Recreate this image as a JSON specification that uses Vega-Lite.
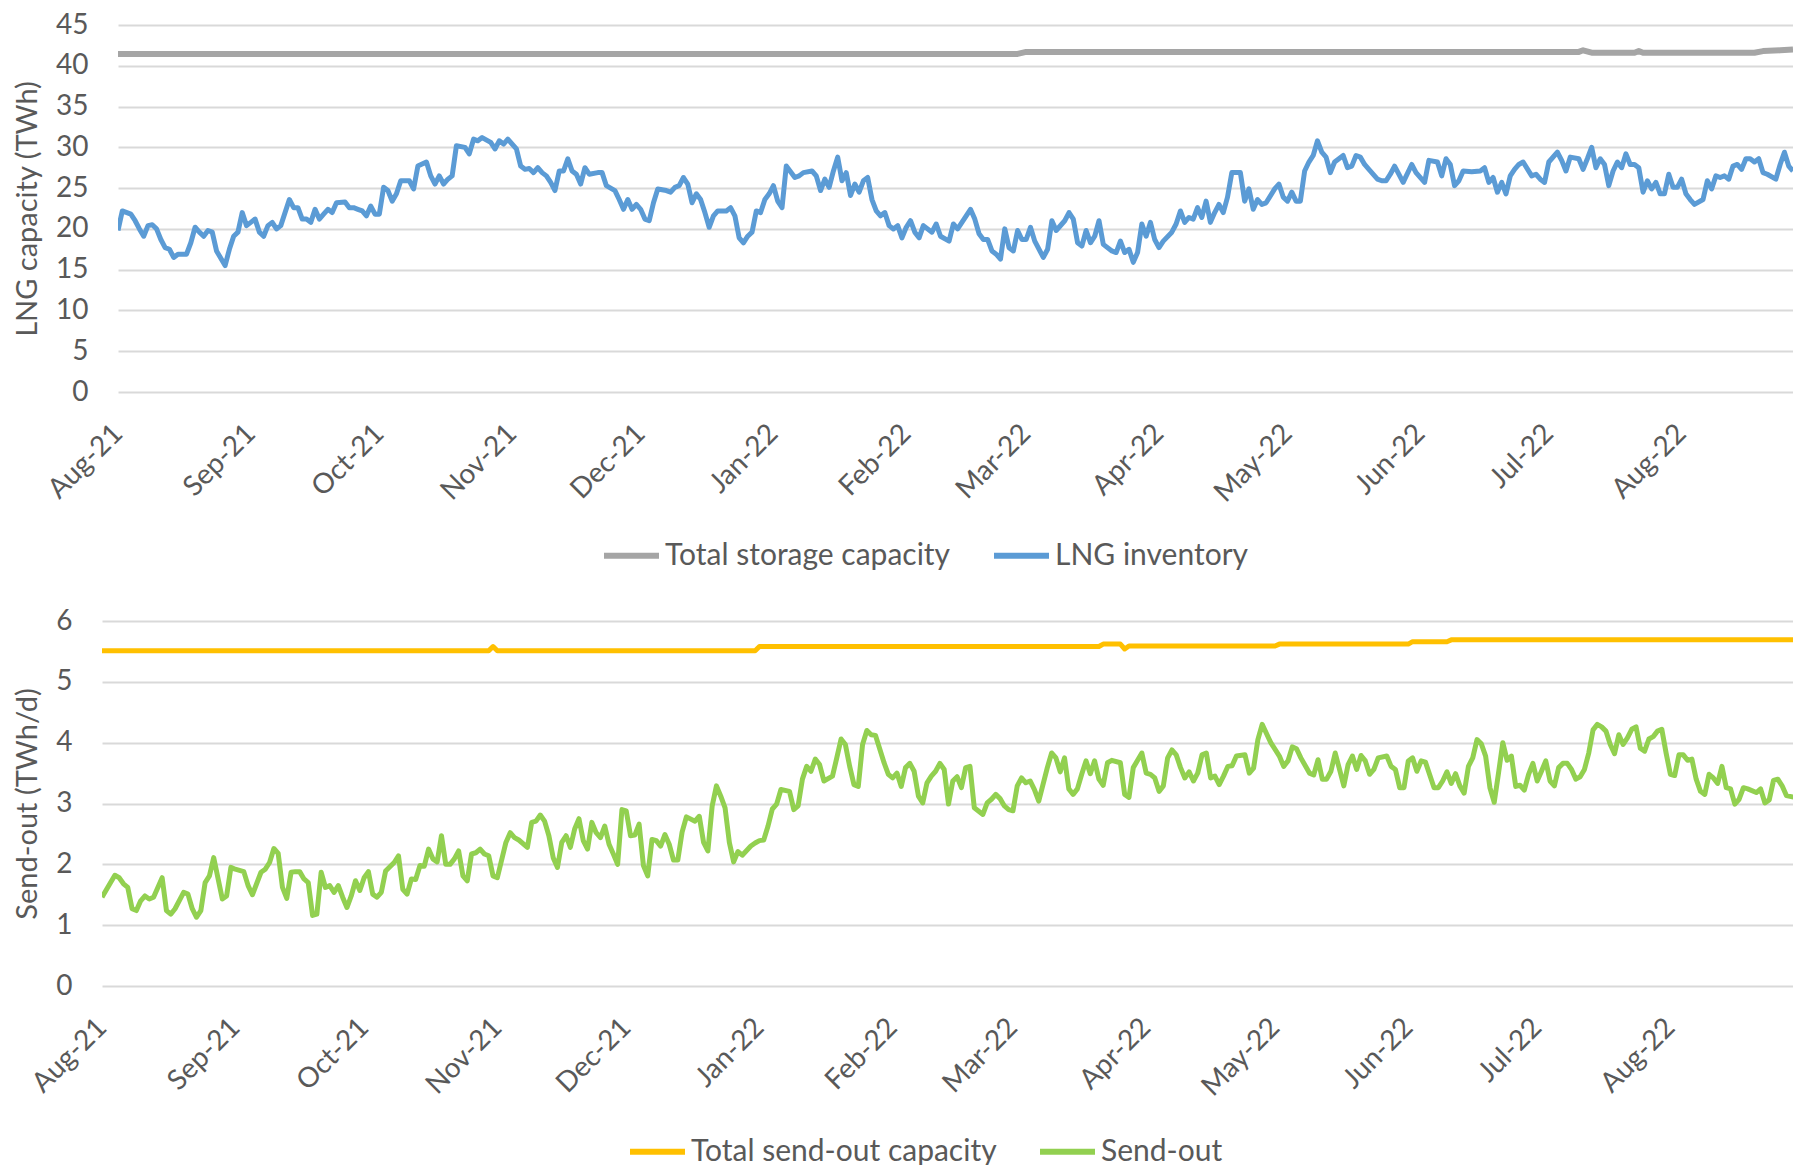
{
  "$schema": "https://vega.github.io/schema/vega-lite/v6.json",
  "background": "white",
  "padding": {"left": 12, "top": 11, "right": 0, "bottom": 0},
  "config": {
    "view": {"stroke": null},
    "font": "Lato",
    "axis": {
      "labelFont": "Lato", "titleFont": "Lato",
      "labelColor": "#595959", "titleColor": "#595959",
      "labelFontSize": 28, "titleFontSize": 29, "titleFontWeight": "normal",
      "domain": false, "ticks": false, "tickSize": 0,
      "gridColor": "#D9D9D9", "gridWidth": 2
    },
    "legend": {
      "labelFont": "Lato", "labelFontSize": 30, "labelColor": "#595959",
      "symbolType": "stroke", "symbolSize": 3025, "symbolStrokeWidth": 6,
      "labelOffset": 3, "columnPadding": 31, "labelLimit": 0, "padding": 0
    }
  },
  "datasets": {
    "storage": [
      {"date": "2021-08-01", "value": 41.45}, {"date": "2022-02-27", "value": 41.45},
      {"date": "2022-03-01", "value": 41.7}, {"date": "2022-07-08", "value": 41.7},
      {"date": "2022-07-09", "value": 41.9}, {"date": "2022-07-11", "value": 41.6},
      {"date": "2022-07-21", "value": 41.6}, {"date": "2022-07-22", "value": 41.8},
      {"date": "2022-07-23", "value": 41.6}, {"date": "2022-08-18", "value": 41.6},
      {"date": "2022-08-20", "value": 41.8}, {"date": "2022-08-24", "value": 41.9},
      {"date": "2022-08-27", "value": 42.0}
    ],
    "inventory": [
      {"date": "2021-08-01", "value": 19.8}, {"date": "2021-08-02", "value": 22.2}, {"date": "2021-08-04", "value": 21.8},
      {"date": "2021-08-05", "value": 21.0}, {"date": "2021-08-06", "value": 20.0}, {"date": "2021-08-07", "value": 19.1},
      {"date": "2021-08-08", "value": 20.4}, {"date": "2021-08-09", "value": 20.5}, {"date": "2021-08-10", "value": 20.0},
      {"date": "2021-08-11", "value": 18.7}, {"date": "2021-08-12", "value": 17.7}, {"date": "2021-08-13", "value": 17.5},
      {"date": "2021-08-14", "value": 16.5}, {"date": "2021-08-15", "value": 16.9}, {"date": "2021-08-17", "value": 16.9},
      {"date": "2021-08-18", "value": 18.3}, {"date": "2021-08-19", "value": 20.2}, {"date": "2021-08-20", "value": 19.6},
      {"date": "2021-08-21", "value": 19.1}, {"date": "2021-08-22", "value": 19.8}, {"date": "2021-08-23", "value": 19.6},
      {"date": "2021-08-24", "value": 17.3}, {"date": "2021-08-26", "value": 15.5}, {"date": "2021-08-27", "value": 17.5},
      {"date": "2021-08-28", "value": 19.1}, {"date": "2021-08-29", "value": 19.6}, {"date": "2021-08-30", "value": 22.0},
      {"date": "2021-08-31", "value": 20.4}, {"date": "2021-09-01", "value": 20.8}, {"date": "2021-09-02", "value": 21.2},
      {"date": "2021-09-03", "value": 19.6}, {"date": "2021-09-04", "value": 19.1}, {"date": "2021-09-05", "value": 20.4},
      {"date": "2021-09-06", "value": 20.8}, {"date": "2021-09-07", "value": 20.0}, {"date": "2021-09-08", "value": 20.4},
      {"date": "2021-09-10", "value": 23.6}, {"date": "2021-09-11", "value": 22.6}, {"date": "2021-09-12", "value": 22.6},
      {"date": "2021-09-13", "value": 21.2}, {"date": "2021-09-14", "value": 21.2}, {"date": "2021-09-15", "value": 20.8},
      {"date": "2021-09-16", "value": 22.4}, {"date": "2021-09-17", "value": 21.2}, {"date": "2021-09-18", "value": 21.8},
      {"date": "2021-09-19", "value": 22.4}, {"date": "2021-09-20", "value": 22.0}, {"date": "2021-09-21", "value": 23.2},
      {"date": "2021-09-23", "value": 23.3}, {"date": "2021-09-24", "value": 22.6}, {"date": "2021-09-25", "value": 22.6},
      {"date": "2021-09-26", "value": 22.4}, {"date": "2021-09-27", "value": 22.2}, {"date": "2021-09-28", "value": 21.6},
      {"date": "2021-09-29", "value": 22.8}, {"date": "2021-09-30", "value": 21.8}, {"date": "2021-10-01", "value": 21.8},
      {"date": "2021-10-02", "value": 25.1}, {"date": "2021-10-03", "value": 24.7}, {"date": "2021-10-04", "value": 23.4},
      {"date": "2021-10-05", "value": 24.3}, {"date": "2021-10-06", "value": 25.9}, {"date": "2021-10-08", "value": 25.9},
      {"date": "2021-10-09", "value": 24.9}, {"date": "2021-10-10", "value": 27.7}, {"date": "2021-10-12", "value": 28.2},
      {"date": "2021-10-13", "value": 26.5}, {"date": "2021-10-14", "value": 25.5}, {"date": "2021-10-15", "value": 26.5},
      {"date": "2021-10-16", "value": 25.5}, {"date": "2021-10-17", "value": 26.1}, {"date": "2021-10-18", "value": 26.5},
      {"date": "2021-10-19", "value": 30.2}, {"date": "2021-10-21", "value": 30.0}, {"date": "2021-10-22", "value": 29.2},
      {"date": "2021-10-23", "value": 31.0}, {"date": "2021-10-24", "value": 30.8}, {"date": "2021-10-25", "value": 31.2},
      {"date": "2021-10-27", "value": 30.6}, {"date": "2021-10-28", "value": 29.8}, {"date": "2021-10-29", "value": 30.8},
      {"date": "2021-10-30", "value": 30.4}, {"date": "2021-10-31", "value": 31.0}, {"date": "2021-11-02", "value": 29.8},
      {"date": "2021-11-03", "value": 27.7}, {"date": "2021-11-04", "value": 27.3}, {"date": "2021-11-05", "value": 27.4},
      {"date": "2021-11-06", "value": 26.9}, {"date": "2021-11-07", "value": 27.5}, {"date": "2021-11-08", "value": 26.9},
      {"date": "2021-11-09", "value": 26.5}, {"date": "2021-11-10", "value": 25.7}, {"date": "2021-11-11", "value": 24.7},
      {"date": "2021-11-12", "value": 27.1}, {"date": "2021-11-13", "value": 27.1}, {"date": "2021-11-14", "value": 28.6},
      {"date": "2021-11-15", "value": 27.1}, {"date": "2021-11-16", "value": 26.7}, {"date": "2021-11-17", "value": 25.5},
      {"date": "2021-11-18", "value": 27.5}, {"date": "2021-11-19", "value": 26.7}, {"date": "2021-11-21", "value": 26.9},
      {"date": "2021-11-22", "value": 26.9}, {"date": "2021-11-23", "value": 25.3}, {"date": "2021-11-25", "value": 24.7},
      {"date": "2021-11-26", "value": 23.6}, {"date": "2021-11-27", "value": 22.4}, {"date": "2021-11-28", "value": 23.6},
      {"date": "2021-11-29", "value": 22.4}, {"date": "2021-11-30", "value": 23.0}, {"date": "2021-12-01", "value": 22.4},
      {"date": "2021-12-02", "value": 21.2}, {"date": "2021-12-03", "value": 21.0}, {"date": "2021-12-04", "value": 23.2},
      {"date": "2021-12-05", "value": 24.9}, {"date": "2021-12-07", "value": 24.7}, {"date": "2021-12-08", "value": 24.5},
      {"date": "2021-12-09", "value": 25.1}, {"date": "2021-12-10", "value": 25.3}, {"date": "2021-12-11", "value": 26.3},
      {"date": "2021-12-12", "value": 25.5}, {"date": "2021-12-13", "value": 23.2}, {"date": "2021-12-14", "value": 24.3},
      {"date": "2021-12-15", "value": 23.6}, {"date": "2021-12-16", "value": 22.0}, {"date": "2021-12-17", "value": 20.2},
      {"date": "2021-12-18", "value": 21.6}, {"date": "2021-12-19", "value": 22.2}, {"date": "2021-12-21", "value": 22.2},
      {"date": "2021-12-22", "value": 22.6}, {"date": "2021-12-23", "value": 21.6}, {"date": "2021-12-24", "value": 18.9},
      {"date": "2021-12-25", "value": 18.3}, {"date": "2021-12-26", "value": 19.1}, {"date": "2021-12-27", "value": 19.6},
      {"date": "2021-12-28", "value": 22.2}, {"date": "2021-12-29", "value": 22.0}, {"date": "2021-12-30", "value": 23.6},
      {"date": "2021-12-31", "value": 24.3}, {"date": "2022-01-01", "value": 25.3}, {"date": "2022-01-02", "value": 23.4},
      {"date": "2022-01-03", "value": 22.6}, {"date": "2022-01-04", "value": 27.7}, {"date": "2022-01-06", "value": 26.3},
      {"date": "2022-01-07", "value": 26.5}, {"date": "2022-01-08", "value": 26.9}, {"date": "2022-01-10", "value": 27.1},
      {"date": "2022-01-11", "value": 26.5}, {"date": "2022-01-12", "value": 24.7}, {"date": "2022-01-13", "value": 26.1},
      {"date": "2022-01-14", "value": 25.1}, {"date": "2022-01-15", "value": 27.1}, {"date": "2022-01-16", "value": 28.8},
      {"date": "2022-01-17", "value": 25.9}, {"date": "2022-01-18", "value": 26.9}, {"date": "2022-01-19", "value": 24.1},
      {"date": "2022-01-20", "value": 25.5}, {"date": "2022-01-21", "value": 24.5}, {"date": "2022-01-22", "value": 25.9},
      {"date": "2022-01-23", "value": 26.3}, {"date": "2022-01-24", "value": 23.6}, {"date": "2022-01-25", "value": 22.2},
      {"date": "2022-01-26", "value": 21.6}, {"date": "2022-01-27", "value": 22.0}, {"date": "2022-01-28", "value": 20.4},
      {"date": "2022-01-29", "value": 20.0}, {"date": "2022-01-30", "value": 20.4}, {"date": "2022-01-31", "value": 18.9},
      {"date": "2022-02-01", "value": 20.2}, {"date": "2022-02-02", "value": 21.0}, {"date": "2022-02-03", "value": 19.6},
      {"date": "2022-02-04", "value": 18.9}, {"date": "2022-02-05", "value": 20.4}, {"date": "2022-02-07", "value": 19.6},
      {"date": "2022-02-08", "value": 20.6}, {"date": "2022-02-09", "value": 19.1}, {"date": "2022-02-11", "value": 18.5},
      {"date": "2022-02-12", "value": 20.6}, {"date": "2022-02-13", "value": 20.0}, {"date": "2022-02-15", "value": 21.6},
      {"date": "2022-02-16", "value": 22.4}, {"date": "2022-02-17", "value": 21.2}, {"date": "2022-02-18", "value": 19.4},
      {"date": "2022-02-19", "value": 18.7}, {"date": "2022-02-20", "value": 18.7}, {"date": "2022-02-21", "value": 17.3},
      {"date": "2022-02-22", "value": 16.9}, {"date": "2022-02-23", "value": 16.3}, {"date": "2022-02-24", "value": 20.0},
      {"date": "2022-02-25", "value": 17.7}, {"date": "2022-02-26", "value": 17.3}, {"date": "2022-02-27", "value": 19.8},
      {"date": "2022-02-28", "value": 18.7}, {"date": "2022-03-01", "value": 18.7}, {"date": "2022-03-02", "value": 20.2},
      {"date": "2022-03-03", "value": 18.5}, {"date": "2022-03-05", "value": 16.5}, {"date": "2022-03-06", "value": 17.5},
      {"date": "2022-03-07", "value": 21.0}, {"date": "2022-03-08", "value": 19.8}, {"date": "2022-03-10", "value": 21.0},
      {"date": "2022-03-11", "value": 22.0}, {"date": "2022-03-12", "value": 21.2}, {"date": "2022-03-13", "value": 18.3},
      {"date": "2022-03-14", "value": 17.9}, {"date": "2022-03-15", "value": 19.8}, {"date": "2022-03-16", "value": 18.3},
      {"date": "2022-03-17", "value": 19.1}, {"date": "2022-03-18", "value": 21.0}, {"date": "2022-03-19", "value": 18.1},
      {"date": "2022-03-21", "value": 17.3}, {"date": "2022-03-22", "value": 17.1}, {"date": "2022-03-23", "value": 18.5},
      {"date": "2022-03-24", "value": 17.1}, {"date": "2022-03-25", "value": 17.5}, {"date": "2022-03-26", "value": 15.9},
      {"date": "2022-03-27", "value": 17.1}, {"date": "2022-03-28", "value": 20.6}, {"date": "2022-03-29", "value": 19.1},
      {"date": "2022-03-30", "value": 20.8}, {"date": "2022-03-31", "value": 18.7}, {"date": "2022-04-01", "value": 17.7},
      {"date": "2022-04-02", "value": 18.5}, {"date": "2022-04-04", "value": 19.6}, {"date": "2022-04-05", "value": 20.6},
      {"date": "2022-04-06", "value": 22.2}, {"date": "2022-04-07", "value": 20.8}, {"date": "2022-04-08", "value": 21.4},
      {"date": "2022-04-09", "value": 21.2}, {"date": "2022-04-10", "value": 22.6}, {"date": "2022-04-11", "value": 21.4},
      {"date": "2022-04-12", "value": 23.4}, {"date": "2022-04-13", "value": 20.8}, {"date": "2022-04-14", "value": 22.0},
      {"date": "2022-04-15", "value": 23.0}, {"date": "2022-04-16", "value": 22.0}, {"date": "2022-04-17", "value": 23.9},
      {"date": "2022-04-18", "value": 26.9}, {"date": "2022-04-20", "value": 26.9}, {"date": "2022-04-21", "value": 23.4},
      {"date": "2022-04-22", "value": 24.9}, {"date": "2022-04-23", "value": 22.4}, {"date": "2022-04-24", "value": 23.6},
      {"date": "2022-04-25", "value": 23.0}, {"date": "2022-04-26", "value": 23.2}, {"date": "2022-04-28", "value": 24.9},
      {"date": "2022-04-29", "value": 25.5}, {"date": "2022-04-30", "value": 23.9}, {"date": "2022-05-01", "value": 23.4},
      {"date": "2022-05-02", "value": 24.5}, {"date": "2022-05-03", "value": 23.4}, {"date": "2022-05-04", "value": 23.4},
      {"date": "2022-05-05", "value": 27.1}, {"date": "2022-05-06", "value": 28.2}, {"date": "2022-05-07", "value": 29.0},
      {"date": "2022-05-08", "value": 30.8}, {"date": "2022-05-09", "value": 29.4}, {"date": "2022-05-10", "value": 28.8},
      {"date": "2022-05-11", "value": 26.9}, {"date": "2022-05-12", "value": 28.2}, {"date": "2022-05-14", "value": 29.0},
      {"date": "2022-05-15", "value": 27.5}, {"date": "2022-05-16", "value": 27.7}, {"date": "2022-05-17", "value": 29.0},
      {"date": "2022-05-18", "value": 28.8}, {"date": "2022-05-19", "value": 27.9}, {"date": "2022-05-20", "value": 27.3},
      {"date": "2022-05-22", "value": 26.1}, {"date": "2022-05-23", "value": 25.9}, {"date": "2022-05-24", "value": 25.9},
      {"date": "2022-05-25", "value": 26.7}, {"date": "2022-05-26", "value": 27.7}, {"date": "2022-05-28", "value": 25.7},
      {"date": "2022-05-30", "value": 27.9}, {"date": "2022-05-31", "value": 26.9}, {"date": "2022-06-02", "value": 25.7},
      {"date": "2022-06-03", "value": 28.4}, {"date": "2022-06-05", "value": 28.2}, {"date": "2022-06-06", "value": 26.5},
      {"date": "2022-06-07", "value": 28.6}, {"date": "2022-06-08", "value": 27.9}, {"date": "2022-06-09", "value": 25.3},
      {"date": "2022-06-10", "value": 25.9}, {"date": "2022-06-11", "value": 27.1}, {"date": "2022-06-13", "value": 27.0},
      {"date": "2022-06-15", "value": 27.1}, {"date": "2022-06-16", "value": 27.5}, {"date": "2022-06-17", "value": 25.7},
      {"date": "2022-06-18", "value": 26.3}, {"date": "2022-06-19", "value": 24.5}, {"date": "2022-06-20", "value": 25.7},
      {"date": "2022-06-21", "value": 24.3}, {"date": "2022-06-22", "value": 26.5}, {"date": "2022-06-23", "value": 27.3},
      {"date": "2022-06-24", "value": 27.9}, {"date": "2022-06-25", "value": 28.2}, {"date": "2022-06-27", "value": 26.5},
      {"date": "2022-06-28", "value": 26.7}, {"date": "2022-06-29", "value": 26.1}, {"date": "2022-06-30", "value": 25.7},
      {"date": "2022-07-01", "value": 28.2}, {"date": "2022-07-03", "value": 29.4}, {"date": "2022-07-04", "value": 28.4},
      {"date": "2022-07-05", "value": 27.1}, {"date": "2022-07-06", "value": 28.8}, {"date": "2022-07-08", "value": 28.6},
      {"date": "2022-07-09", "value": 27.3}, {"date": "2022-07-10", "value": 28.6}, {"date": "2022-07-11", "value": 30.0},
      {"date": "2022-07-12", "value": 27.5}, {"date": "2022-07-13", "value": 28.6}, {"date": "2022-07-14", "value": 27.9},
      {"date": "2022-07-15", "value": 25.3}, {"date": "2022-07-16", "value": 27.1}, {"date": "2022-07-17", "value": 28.2},
      {"date": "2022-07-18", "value": 27.5}, {"date": "2022-07-19", "value": 29.2}, {"date": "2022-07-20", "value": 27.9},
      {"date": "2022-07-21", "value": 27.9}, {"date": "2022-07-22", "value": 27.5}, {"date": "2022-07-23", "value": 24.5},
      {"date": "2022-07-24", "value": 25.9}, {"date": "2022-07-25", "value": 24.9}, {"date": "2022-07-26", "value": 25.7},
      {"date": "2022-07-27", "value": 24.3}, {"date": "2022-07-28", "value": 24.3}, {"date": "2022-07-29", "value": 26.7},
      {"date": "2022-07-30", "value": 25.1}, {"date": "2022-07-31", "value": 25.1}, {"date": "2022-08-01", "value": 26.1},
      {"date": "2022-08-02", "value": 24.3}, {"date": "2022-08-03", "value": 23.6}, {"date": "2022-08-04", "value": 23.0},
      {"date": "2022-08-06", "value": 23.6}, {"date": "2022-08-07", "value": 25.9}, {"date": "2022-08-08", "value": 24.9},
      {"date": "2022-08-09", "value": 26.5}, {"date": "2022-08-10", "value": 26.3}, {"date": "2022-08-11", "value": 26.5},
      {"date": "2022-08-12", "value": 26.1}, {"date": "2022-08-13", "value": 27.7}, {"date": "2022-08-14", "value": 27.9},
      {"date": "2022-08-15", "value": 27.3}, {"date": "2022-08-16", "value": 28.6}, {"date": "2022-08-17", "value": 28.6},
      {"date": "2022-08-18", "value": 28.2}, {"date": "2022-08-19", "value": 28.6}, {"date": "2022-08-20", "value": 26.9},
      {"date": "2022-08-21", "value": 26.7}, {"date": "2022-08-23", "value": 26.1}, {"date": "2022-08-24", "value": 27.9},
      {"date": "2022-08-25", "value": 29.4}, {"date": "2022-08-26", "value": 27.7}, {"date": "2022-08-27", "value": 27.1}
    ],
    "sendcap": [
      {"date": "2021-08-01", "value": 5.51}, {"date": "2021-10-30", "value": 5.51}, {"date": "2021-10-31", "value": 5.58},
      {"date": "2021-11-01", "value": 5.51}, {"date": "2021-12-31", "value": 5.51}, {"date": "2022-01-01", "value": 5.58},
      {"date": "2022-03-21", "value": 5.58}, {"date": "2022-03-22", "value": 5.62}, {"date": "2022-03-26", "value": 5.62},
      {"date": "2022-03-27", "value": 5.54}, {"date": "2022-03-28", "value": 5.59}, {"date": "2022-05-01", "value": 5.59},
      {"date": "2022-05-02", "value": 5.62}, {"date": "2022-06-01", "value": 5.62}, {"date": "2022-06-02", "value": 5.66},
      {"date": "2022-06-10", "value": 5.66}, {"date": "2022-06-11", "value": 5.69}, {"date": "2022-08-30", "value": 5.69}
    ],
    "sendout": [
      {"date": "2021-08-01", "value": 1.46}, {"date": "2021-08-03", "value": 1.70}, {"date": "2021-08-04", "value": 1.82},
      {"date": "2021-08-05", "value": 1.78}, {"date": "2021-08-06", "value": 1.68}, {"date": "2021-08-07", "value": 1.62},
      {"date": "2021-08-08", "value": 1.27}, {"date": "2021-08-09", "value": 1.24}, {"date": "2021-08-10", "value": 1.40},
      {"date": "2021-08-11", "value": 1.48}, {"date": "2021-08-12", "value": 1.43}, {"date": "2021-08-13", "value": 1.46},
      {"date": "2021-08-14", "value": 1.62}, {"date": "2021-08-15", "value": 1.78}, {"date": "2021-08-16", "value": 1.24},
      {"date": "2021-08-17", "value": 1.18}, {"date": "2021-08-18", "value": 1.27}, {"date": "2021-08-20", "value": 1.54},
      {"date": "2021-08-21", "value": 1.51}, {"date": "2021-08-22", "value": 1.27}, {"date": "2021-08-23", "value": 1.13},
      {"date": "2021-08-24", "value": 1.24}, {"date": "2021-08-25", "value": 1.70}, {"date": "2021-08-26", "value": 1.81},
      {"date": "2021-08-27", "value": 2.11}, {"date": "2021-08-29", "value": 1.43}, {"date": "2021-08-30", "value": 1.48},
      {"date": "2021-08-31", "value": 1.95}, {"date": "2021-09-01", "value": 1.92}, {"date": "2021-09-03", "value": 1.88},
      {"date": "2021-09-04", "value": 1.65}, {"date": "2021-09-05", "value": 1.50}, {"date": "2021-09-07", "value": 1.87},
      {"date": "2021-09-08", "value": 1.92}, {"date": "2021-09-09", "value": 2.03}, {"date": "2021-09-10", "value": 2.26},
      {"date": "2021-09-11", "value": 2.18}, {"date": "2021-09-12", "value": 1.62}, {"date": "2021-09-13", "value": 1.44},
      {"date": "2021-09-14", "value": 1.87}, {"date": "2021-09-15", "value": 1.88}, {"date": "2021-09-16", "value": 1.88},
      {"date": "2021-09-17", "value": 1.76}, {"date": "2021-09-18", "value": 1.70}, {"date": "2021-09-19", "value": 1.16},
      {"date": "2021-09-20", "value": 1.18}, {"date": "2021-09-21", "value": 1.87}, {"date": "2021-09-22", "value": 1.62},
      {"date": "2021-09-23", "value": 1.65}, {"date": "2021-09-24", "value": 1.54}, {"date": "2021-09-25", "value": 1.65},
      {"date": "2021-09-26", "value": 1.46}, {"date": "2021-09-27", "value": 1.29}, {"date": "2021-09-28", "value": 1.48},
      {"date": "2021-09-29", "value": 1.73}, {"date": "2021-09-30", "value": 1.57}, {"date": "2021-10-01", "value": 1.78},
      {"date": "2021-10-02", "value": 1.88}, {"date": "2021-10-03", "value": 1.51}, {"date": "2021-10-04", "value": 1.46},
      {"date": "2021-10-05", "value": 1.54}, {"date": "2021-10-06", "value": 1.89}, {"date": "2021-10-08", "value": 2.03},
      {"date": "2021-10-09", "value": 2.14}, {"date": "2021-10-10", "value": 1.59}, {"date": "2021-10-11", "value": 1.51},
      {"date": "2021-10-12", "value": 1.76}, {"date": "2021-10-13", "value": 1.75}, {"date": "2021-10-14", "value": 1.98},
      {"date": "2021-10-15", "value": 1.97}, {"date": "2021-10-16", "value": 2.25}, {"date": "2021-10-17", "value": 2.09},
      {"date": "2021-10-18", "value": 2.04}, {"date": "2021-10-19", "value": 2.47}, {"date": "2021-10-20", "value": 2.00},
      {"date": "2021-10-21", "value": 2.00}, {"date": "2021-10-22", "value": 2.09}, {"date": "2021-10-23", "value": 2.22},
      {"date": "2021-10-24", "value": 1.81}, {"date": "2021-10-25", "value": 1.73}, {"date": "2021-10-26", "value": 2.17},
      {"date": "2021-10-27", "value": 2.19}, {"date": "2021-10-28", "value": 2.25}, {"date": "2021-10-29", "value": 2.17},
      {"date": "2021-10-30", "value": 2.14}, {"date": "2021-10-31", "value": 1.81}, {"date": "2021-11-01", "value": 1.78},
      {"date": "2021-11-03", "value": 2.36}, {"date": "2021-11-04", "value": 2.52}, {"date": "2021-11-05", "value": 2.44},
      {"date": "2021-11-06", "value": 2.40}, {"date": "2021-11-08", "value": 2.28}, {"date": "2021-11-09", "value": 2.69},
      {"date": "2021-11-10", "value": 2.71}, {"date": "2021-11-11", "value": 2.81}, {"date": "2021-11-12", "value": 2.71},
      {"date": "2021-11-13", "value": 2.47}, {"date": "2021-11-14", "value": 2.11}, {"date": "2021-11-15", "value": 1.95},
      {"date": "2021-11-16", "value": 2.36}, {"date": "2021-11-17", "value": 2.47}, {"date": "2021-11-18", "value": 2.28},
      {"date": "2021-11-19", "value": 2.58}, {"date": "2021-11-20", "value": 2.75}, {"date": "2021-11-21", "value": 2.39},
      {"date": "2021-11-22", "value": 2.25}, {"date": "2021-11-23", "value": 2.69}, {"date": "2021-11-24", "value": 2.52},
      {"date": "2021-11-25", "value": 2.44}, {"date": "2021-11-26", "value": 2.63}, {"date": "2021-11-27", "value": 2.33},
      {"date": "2021-11-28", "value": 2.17}, {"date": "2021-11-29", "value": 2.00}, {"date": "2021-11-30", "value": 2.90},
      {"date": "2021-12-01", "value": 2.88}, {"date": "2021-12-02", "value": 2.47}, {"date": "2021-12-03", "value": 2.48},
      {"date": "2021-12-04", "value": 2.66}, {"date": "2021-12-05", "value": 1.98}, {"date": "2021-12-06", "value": 1.81},
      {"date": "2021-12-07", "value": 2.41}, {"date": "2021-12-08", "value": 2.39}, {"date": "2021-12-09", "value": 2.30},
      {"date": "2021-12-10", "value": 2.49}, {"date": "2021-12-11", "value": 2.33}, {"date": "2021-12-12", "value": 2.07},
      {"date": "2021-12-13", "value": 2.07}, {"date": "2021-12-14", "value": 2.53}, {"date": "2021-12-15", "value": 2.78},
      {"date": "2021-12-17", "value": 2.71}, {"date": "2021-12-18", "value": 2.79}, {"date": "2021-12-19", "value": 2.36},
      {"date": "2021-12-20", "value": 2.22}, {"date": "2021-12-21", "value": 2.96}, {"date": "2021-12-22", "value": 3.29},
      {"date": "2021-12-23", "value": 3.12}, {"date": "2021-12-24", "value": 2.93}, {"date": "2021-12-25", "value": 2.36},
      {"date": "2021-12-26", "value": 2.04}, {"date": "2021-12-27", "value": 2.21}, {"date": "2021-12-28", "value": 2.15},
      {"date": "2021-12-30", "value": 2.30}, {"date": "2021-12-31", "value": 2.35}, {"date": "2022-01-01", "value": 2.39},
      {"date": "2022-01-02", "value": 2.40}, {"date": "2022-01-03", "value": 2.63}, {"date": "2022-01-04", "value": 2.91},
      {"date": "2022-01-05", "value": 2.99}, {"date": "2022-01-06", "value": 3.23}, {"date": "2022-01-08", "value": 3.20},
      {"date": "2022-01-09", "value": 2.90}, {"date": "2022-01-10", "value": 2.96}, {"date": "2022-01-11", "value": 3.40},
      {"date": "2022-01-12", "value": 3.61}, {"date": "2022-01-13", "value": 3.53}, {"date": "2022-01-14", "value": 3.73},
      {"date": "2022-01-15", "value": 3.64}, {"date": "2022-01-16", "value": 3.37}, {"date": "2022-01-18", "value": 3.45},
      {"date": "2022-01-19", "value": 3.75}, {"date": "2022-01-20", "value": 4.06}, {"date": "2022-01-21", "value": 3.97},
      {"date": "2022-01-22", "value": 3.61}, {"date": "2022-01-23", "value": 3.31}, {"date": "2022-01-24", "value": 3.28},
      {"date": "2022-01-25", "value": 3.97}, {"date": "2022-01-26", "value": 4.20}, {"date": "2022-01-27", "value": 4.13},
      {"date": "2022-01-28", "value": 4.12}, {"date": "2022-01-30", "value": 3.67}, {"date": "2022-01-31", "value": 3.48},
      {"date": "2022-02-01", "value": 3.42}, {"date": "2022-02-02", "value": 3.50}, {"date": "2022-02-03", "value": 3.28},
      {"date": "2022-02-04", "value": 3.59}, {"date": "2022-02-05", "value": 3.66}, {"date": "2022-02-06", "value": 3.53},
      {"date": "2022-02-07", "value": 3.12}, {"date": "2022-02-08", "value": 3.01}, {"date": "2022-02-09", "value": 3.34},
      {"date": "2022-02-10", "value": 3.45}, {"date": "2022-02-11", "value": 3.53}, {"date": "2022-02-12", "value": 3.66},
      {"date": "2022-02-13", "value": 3.56}, {"date": "2022-02-14", "value": 2.99}, {"date": "2022-02-15", "value": 3.37},
      {"date": "2022-02-16", "value": 3.44}, {"date": "2022-02-17", "value": 3.26}, {"date": "2022-02-18", "value": 3.59},
      {"date": "2022-02-19", "value": 3.61}, {"date": "2022-02-20", "value": 2.93}, {"date": "2022-02-22", "value": 2.82},
      {"date": "2022-02-23", "value": 3.01}, {"date": "2022-02-24", "value": 3.07}, {"date": "2022-02-25", "value": 3.15},
      {"date": "2022-02-26", "value": 3.08}, {"date": "2022-02-27", "value": 2.96}, {"date": "2022-02-28", "value": 2.90},
      {"date": "2022-03-01", "value": 2.88}, {"date": "2022-03-02", "value": 3.29}, {"date": "2022-03-03", "value": 3.42},
      {"date": "2022-03-04", "value": 3.34}, {"date": "2022-03-05", "value": 3.37}, {"date": "2022-03-06", "value": 3.23},
      {"date": "2022-03-07", "value": 3.04}, {"date": "2022-03-09", "value": 3.59}, {"date": "2022-03-10", "value": 3.83},
      {"date": "2022-03-11", "value": 3.75}, {"date": "2022-03-12", "value": 3.52}, {"date": "2022-03-13", "value": 3.75},
      {"date": "2022-03-14", "value": 3.24}, {"date": "2022-03-15", "value": 3.15}, {"date": "2022-03-16", "value": 3.24},
      {"date": "2022-03-17", "value": 3.48}, {"date": "2022-03-18", "value": 3.70}, {"date": "2022-03-19", "value": 3.49},
      {"date": "2022-03-20", "value": 3.70}, {"date": "2022-03-21", "value": 3.40}, {"date": "2022-03-22", "value": 3.30},
      {"date": "2022-03-23", "value": 3.67}, {"date": "2022-03-24", "value": 3.71}, {"date": "2022-03-26", "value": 3.67},
      {"date": "2022-03-27", "value": 3.15}, {"date": "2022-03-28", "value": 3.10}, {"date": "2022-03-29", "value": 3.59},
      {"date": "2022-03-31", "value": 3.83}, {"date": "2022-04-01", "value": 3.50}, {"date": "2022-04-02", "value": 3.48},
      {"date": "2022-04-03", "value": 3.42}, {"date": "2022-04-04", "value": 3.20}, {"date": "2022-04-05", "value": 3.29},
      {"date": "2022-04-06", "value": 3.75}, {"date": "2022-04-07", "value": 3.88}, {"date": "2022-04-08", "value": 3.80},
      {"date": "2022-04-09", "value": 3.59}, {"date": "2022-04-10", "value": 3.42}, {"date": "2022-04-11", "value": 3.52},
      {"date": "2022-04-12", "value": 3.37}, {"date": "2022-04-13", "value": 3.50}, {"date": "2022-04-14", "value": 3.80},
      {"date": "2022-04-15", "value": 3.83}, {"date": "2022-04-16", "value": 3.42}, {"date": "2022-04-17", "value": 3.45},
      {"date": "2022-04-18", "value": 3.31}, {"date": "2022-04-19", "value": 3.45}, {"date": "2022-04-20", "value": 3.61},
      {"date": "2022-04-21", "value": 3.62}, {"date": "2022-04-22", "value": 3.78}, {"date": "2022-04-24", "value": 3.80},
      {"date": "2022-04-25", "value": 3.50}, {"date": "2022-04-26", "value": 3.58}, {"date": "2022-04-27", "value": 4.05},
      {"date": "2022-04-28", "value": 4.30}, {"date": "2022-04-29", "value": 4.15}, {"date": "2022-04-30", "value": 4.00},
      {"date": "2022-05-02", "value": 3.78}, {"date": "2022-05-03", "value": 3.61}, {"date": "2022-05-04", "value": 3.70},
      {"date": "2022-05-05", "value": 3.93}, {"date": "2022-05-06", "value": 3.90}, {"date": "2022-05-07", "value": 3.75},
      {"date": "2022-05-09", "value": 3.50}, {"date": "2022-05-10", "value": 3.47}, {"date": "2022-05-11", "value": 3.72},
      {"date": "2022-05-12", "value": 3.40}, {"date": "2022-05-13", "value": 3.40}, {"date": "2022-05-14", "value": 3.53},
      {"date": "2022-05-15", "value": 3.83}, {"date": "2022-05-16", "value": 3.56}, {"date": "2022-05-17", "value": 3.29},
      {"date": "2022-05-18", "value": 3.64}, {"date": "2022-05-19", "value": 3.78}, {"date": "2022-05-20", "value": 3.56},
      {"date": "2022-05-21", "value": 3.79}, {"date": "2022-05-22", "value": 3.70}, {"date": "2022-05-23", "value": 3.48},
      {"date": "2022-05-24", "value": 3.56}, {"date": "2022-05-25", "value": 3.75}, {"date": "2022-05-27", "value": 3.78},
      {"date": "2022-05-28", "value": 3.61}, {"date": "2022-05-29", "value": 3.56}, {"date": "2022-05-30", "value": 3.26},
      {"date": "2022-05-31", "value": 3.26}, {"date": "2022-06-01", "value": 3.70}, {"date": "2022-06-02", "value": 3.75},
      {"date": "2022-06-03", "value": 3.53}, {"date": "2022-06-04", "value": 3.70}, {"date": "2022-06-05", "value": 3.68},
      {"date": "2022-06-07", "value": 3.26}, {"date": "2022-06-08", "value": 3.26}, {"date": "2022-06-09", "value": 3.37},
      {"date": "2022-06-10", "value": 3.52}, {"date": "2022-06-11", "value": 3.33}, {"date": "2022-06-12", "value": 3.49},
      {"date": "2022-06-13", "value": 3.29}, {"date": "2022-06-14", "value": 3.17}, {"date": "2022-06-15", "value": 3.61},
      {"date": "2022-06-16", "value": 3.75}, {"date": "2022-06-17", "value": 4.05}, {"date": "2022-06-18", "value": 3.98},
      {"date": "2022-06-19", "value": 3.78}, {"date": "2022-06-20", "value": 3.26}, {"date": "2022-06-21", "value": 3.02},
      {"date": "2022-06-22", "value": 3.50}, {"date": "2022-06-23", "value": 4.00}, {"date": "2022-06-24", "value": 3.71},
      {"date": "2022-06-25", "value": 3.78}, {"date": "2022-06-26", "value": 3.28}, {"date": "2022-06-27", "value": 3.30},
      {"date": "2022-06-28", "value": 3.22}, {"date": "2022-06-29", "value": 3.48}, {"date": "2022-06-30", "value": 3.66},
      {"date": "2022-07-01", "value": 3.37}, {"date": "2022-07-02", "value": 3.53}, {"date": "2022-07-03", "value": 3.70},
      {"date": "2022-07-04", "value": 3.37}, {"date": "2022-07-05", "value": 3.29}, {"date": "2022-07-06", "value": 3.59},
      {"date": "2022-07-07", "value": 3.66}, {"date": "2022-07-08", "value": 3.66}, {"date": "2022-07-09", "value": 3.56},
      {"date": "2022-07-10", "value": 3.40}, {"date": "2022-07-11", "value": 3.44}, {"date": "2022-07-12", "value": 3.56},
      {"date": "2022-07-13", "value": 3.83}, {"date": "2022-07-14", "value": 4.21}, {"date": "2022-07-15", "value": 4.30},
      {"date": "2022-07-16", "value": 4.26}, {"date": "2022-07-17", "value": 4.19}, {"date": "2022-07-18", "value": 3.97},
      {"date": "2022-07-19", "value": 3.82}, {"date": "2022-07-20", "value": 4.13}, {"date": "2022-07-21", "value": 3.97},
      {"date": "2022-07-22", "value": 4.08}, {"date": "2022-07-23", "value": 4.22}, {"date": "2022-07-24", "value": 4.26},
      {"date": "2022-07-25", "value": 3.91}, {"date": "2022-07-26", "value": 3.86}, {"date": "2022-07-27", "value": 4.06},
      {"date": "2022-07-28", "value": 4.10}, {"date": "2022-07-29", "value": 4.19}, {"date": "2022-07-30", "value": 4.22},
      {"date": "2022-07-31", "value": 3.83}, {"date": "2022-08-01", "value": 3.48}, {"date": "2022-08-02", "value": 3.46},
      {"date": "2022-08-03", "value": 3.80}, {"date": "2022-08-04", "value": 3.80}, {"date": "2022-08-05", "value": 3.71},
      {"date": "2022-08-06", "value": 3.73}, {"date": "2022-08-07", "value": 3.40}, {"date": "2022-08-08", "value": 3.20},
      {"date": "2022-08-09", "value": 3.15}, {"date": "2022-08-10", "value": 3.48}, {"date": "2022-08-11", "value": 3.42},
      {"date": "2022-08-12", "value": 3.33}, {"date": "2022-08-13", "value": 3.61}, {"date": "2022-08-14", "value": 3.26},
      {"date": "2022-08-15", "value": 3.24}, {"date": "2022-08-16", "value": 2.99}, {"date": "2022-08-17", "value": 3.07},
      {"date": "2022-08-18", "value": 3.26}, {"date": "2022-08-19", "value": 3.24}, {"date": "2022-08-21", "value": 3.18},
      {"date": "2022-08-22", "value": 3.24}, {"date": "2022-08-23", "value": 3.01}, {"date": "2022-08-24", "value": 3.06},
      {"date": "2022-08-25", "value": 3.38}, {"date": "2022-08-26", "value": 3.40}, {"date": "2022-08-27", "value": 3.29},
      {"date": "2022-08-28", "value": 3.13}, {"date": "2022-08-30", "value": 3.10}
    ]
  },
  "vconcat": [
    {
      "spacing": 0,
      "hconcat": [
        {"width": 1, "height": 1, "data": {"values": []}, "mark": "point"},
        {
          "width": 1675,
          "height": 367,
          "encoding": {
            "x": {
              "field": "date", "type": "temporal",
              "scale": {"type": "utc", "domain": [{"year": 2021, "month": 8, "date": 1, "utc": true}, {"year": 2022, "month": 8, "date": 27, "utc": true}]},
              "axis": {
                "title": null, "grid": false, "format": "%b-%y", "labelAngle": -45, "labelAlign": "right", "labelBaseline": "middle",
                "labelPadding": 37, "labelOverlap": false, "labelFlush": false,
                "values": [
                  {"year": 2021, "month": 8, "date": 1, "utc": true}, {"year": 2021, "month": 9, "date": 1, "utc": true},
                  {"year": 2021, "month": 10, "date": 1, "utc": true}, {"year": 2021, "month": 11, "date": 1, "utc": true},
                  {"year": 2021, "month": 12, "date": 1, "utc": true}, {"year": 2022, "month": 1, "date": 1, "utc": true},
                  {"year": 2022, "month": 2, "date": 1, "utc": true}, {"year": 2022, "month": 3, "date": 1, "utc": true},
                  {"year": 2022, "month": 4, "date": 1, "utc": true}, {"year": 2022, "month": 5, "date": 1, "utc": true},
                  {"year": 2022, "month": 6, "date": 1, "utc": true}, {"year": 2022, "month": 7, "date": 1, "utc": true},
                  {"year": 2022, "month": 8, "date": 1, "utc": true}
                ]
              }
            },
            "y": {
              "field": "value", "type": "quantitative",
              "scale": {"domain": [0, 45], "nice": false, "zero": true},
              "axis": {"title": "LNG capacity (TWh)", "values": [0, 5, 10, 15, 20, 25, 30, 35, 40, 45], "labelPadding": 30, "titlePadding": 13}
            }
          },
          "layer": [
            {
              "data": {"name": "storage"},
              "mark": {"type": "line", "strokeWidth": 6, "clip": true, "strokeJoin": "round"},
              "encoding": {
                "color": {
                  "datum": "Total storage capacity", "type": "nominal",
                  "scale": {"domain": ["Total storage capacity", "LNG inventory"], "range": ["#A5A5A5", "#5B9BD5"]},
                  "legend": {"title": null, "orient": "none", "direction": "horizontal", "legendX": 589, "legendY": 500}
                }
              }
            },
            {
              "data": {"name": "inventory"},
              "mark": {"type": "line", "strokeWidth": 5, "clip": true, "strokeJoin": "round"},
              "encoding": {"color": {"datum": "LNG inventory", "type": "nominal"}}
            }
          ]
        }
      ]
    },
    {
      "spacing": 0,
      "hconcat": [
        {"width": 1, "height": 1, "data": {"values": []}, "mark": "point"},
        {
          "width": 1693,
          "height": 365,
          "encoding": {
            "x": {
              "field": "date", "type": "temporal",
              "scale": {"type": "utc", "domain": [{"year": 2021, "month": 8, "date": 1, "utc": true}, {"year": 2022, "month": 8, "date": 30, "utc": true}]},
              "axis": {
                "title": null, "grid": false, "format": "%b-%y", "labelAngle": -45, "labelAlign": "right", "labelBaseline": "middle",
                "labelPadding": 37, "labelOverlap": false, "labelFlush": false,
                "values": [
                  {"year": 2021, "month": 8, "date": 1, "utc": true}, {"year": 2021, "month": 9, "date": 1, "utc": true},
                  {"year": 2021, "month": 10, "date": 1, "utc": true}, {"year": 2021, "month": 11, "date": 1, "utc": true},
                  {"year": 2021, "month": 12, "date": 1, "utc": true}, {"year": 2022, "month": 1, "date": 1, "utc": true},
                  {"year": 2022, "month": 2, "date": 1, "utc": true}, {"year": 2022, "month": 3, "date": 1, "utc": true},
                  {"year": 2022, "month": 4, "date": 1, "utc": true}, {"year": 2022, "month": 5, "date": 1, "utc": true},
                  {"year": 2022, "month": 6, "date": 1, "utc": true}, {"year": 2022, "month": 7, "date": 1, "utc": true},
                  {"year": 2022, "month": 8, "date": 1, "utc": true}
                ]
              }
            },
            "y": {
              "field": "value", "type": "quantitative",
              "scale": {"domain": [0, 6], "nice": false, "zero": true},
              "axis": {"title": "Send-out (TWh/d)", "values": [0, 1, 2, 3, 4, 5, 6], "labelPadding": 30, "titlePadding": 13}
            }
          },
          "layer": [
            {
              "data": {"name": "sendcap"},
              "mark": {"type": "line", "strokeWidth": 5, "clip": true, "strokeJoin": "round"},
              "encoding": {
                "color": {
                  "datum": "Total send-out capacity", "type": "nominal",
                  "scale": {"domain": ["Total send-out capacity", "Send-out"], "range": ["#FFC000", "#92D050"]},
                  "legend": {"title": null, "orient": "none", "direction": "horizontal", "legendX": 615, "legendY": 500}
                }
              }
            },
            {
              "data": {"name": "sendout"},
              "mark": {"type": "line", "strokeWidth": 5, "clip": true, "strokeJoin": "round"},
              "encoding": {"color": {"datum": "Send-out", "type": "nominal"}}
            }
          ]
        }
      ]
    }
  ],
  "spacing": 36,
  "resolve": {"scale": {"color": "independent", "x": "independent", "y": "independent"}, "legend": {"color": "independent"}}
}
